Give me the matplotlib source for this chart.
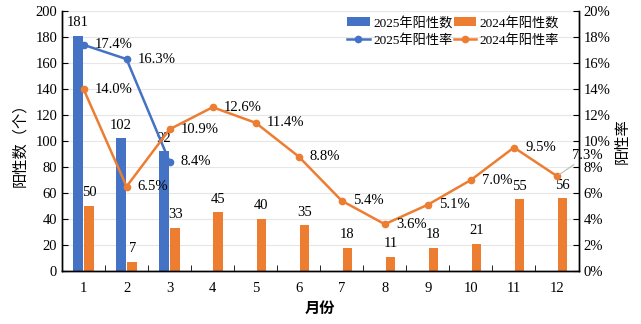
import numpy as np
import matplotlib
matplotlib.use("Agg")
import matplotlib.pyplot as plt

plt.rcParams['font.family'] = ['Liberation Serif', 'Noto Sans CJK SC', 'DejaVu Sans']

months = np.arange(1, 13)
month_labels = [str(m) for m in months]

pos_2025 = [181, 102, 92]
pos_2024 = [50, 7, 33, 45, 40, 35, 18, 11, 18, 21, 55, 56]
rate_2025 = [17.4, 16.3, 8.4]
rate_2024 = [14.0, 6.5, 10.9, 12.6, 11.4, 8.8, 5.4, 3.6, 5.1, 7.0, 9.5, 7.3]

BLUE = '#4472C4'
ORANGE = '#ED7D31'
BAR_W = 0.22
OFF = 0.13
FS = 10.5

fig = plt.figure(figsize=(6.41, 3.24), dpi=100)
ax = fig.add_axes([0.0967, 0.1636, 0.8058, 0.8024])
ax2 = ax.twinx()

x25 = months[:len(pos_2025)]
b1 = ax.bar(x25 - OFF, pos_2025, BAR_W, color=BLUE, label='2025年阳性数')
b2 = ax.bar(months + OFF, pos_2024, BAR_W, color=ORANGE, label='2024年阳性数')

for xi, v in zip(x25 - OFF, pos_2025):
    ax.annotate(str(v), (xi, v), xytext=(0, 9.5), textcoords='offset points',
                ha='center', va='center', fontsize=FS)
for xi, v in zip(months + OFF, pos_2024):
    ax.annotate(str(v), (xi, v), xytext=(0, 9.5), textcoords='offset points',
                ha='center', va='center', fontsize=FS)

l1, = ax2.plot(x25, rate_2025, color=BLUE, lw=1.8, marker='o', ms=4.5, label='2025年阳性率')
l2, = ax2.plot(months, rate_2024, color=ORANGE, lw=1.8, marker='o', ms=4.5, label='2024年阳性率')

for xi, v in zip(x25, rate_2025):
    ax2.annotate(f'{v:.1f}%', (xi, v), xytext=(8, 0), textcoords='offset points',
                 ha='left', va='center', fontsize=FS)
for xi, v in zip(months[:-1], rate_2024[:-1]):
    ax2.annotate(f'{v:.1f}%', (xi, v), xytext=(8, 0), textcoords='offset points',
                 ha='left', va='center', fontsize=FS)
# last point label sits up-right with a leader line
ax2.annotate(f'{rate_2024[-1]:.1f}%', (months[-1], rate_2024[-1]), xytext=(11, 15),
             textcoords='offset points', ha='left', va='center', fontsize=FS,
             arrowprops=dict(arrowstyle='-', color='#bbbbbb', lw=0.8, shrinkA=0, shrinkB=2))

ax.set_xlim(0.5, 12.5)
ax.set_ylim(0, 200)
ax.set_yticks(np.arange(0, 201, 20))
ax2.set_ylim(0, 20)
ax2.set_yticks(np.arange(0, 21, 2))
ax2.set_yticklabels([f'{t}%' for t in range(0, 21, 2)])

ax.set_xticks(months)
ax.set_xticklabels(month_labels)
ax.set_xticks(np.arange(1.5, 12.5, 1), minor=True)
ax.tick_params(axis='x', which='major', length=0, labelsize=FS, pad=8)
ax.tick_params(axis='x', which='minor', direction='in', length=4)
ax.tick_params(axis='y', direction='in', length=4, labelsize=FS)
ax2.tick_params(axis='y', direction='in', length=4, labelsize=FS)

ax.grid(axis='y', color='#e6e6e6', lw=0.8)
ax.set_axisbelow(True)
for a in (ax, ax2):
    a.spines['top'].set_visible(False)
    for s in ('left', 'right', 'bottom'):
        a.spines[s].set_color('black')
        a.spines[s].set_linewidth(1.0)

ax.set_ylabel('阳性数（个）', fontsize=11, labelpad=6)
ax2.set_ylabel('阳性率', fontsize=11, labelpad=4)
ax.set_xlabel('月份', fontsize=11, fontweight='bold', labelpad=5)

# column-wise fill: first column = 2025, second = 2024
ax2.legend([b1, l1, b2, l2], [b1.get_label(), l1.get_label(), b2.get_label(), l2.get_label()],
           ncol=2, loc='upper right', bbox_to_anchor=(0.985, 1.025), frameon=False,
           fontsize=9.5, columnspacing=0.1, handlelength=1.7, handletextpad=0.25,
           labelspacing=0.35)

fig.savefig('out.png', dpi=100)
